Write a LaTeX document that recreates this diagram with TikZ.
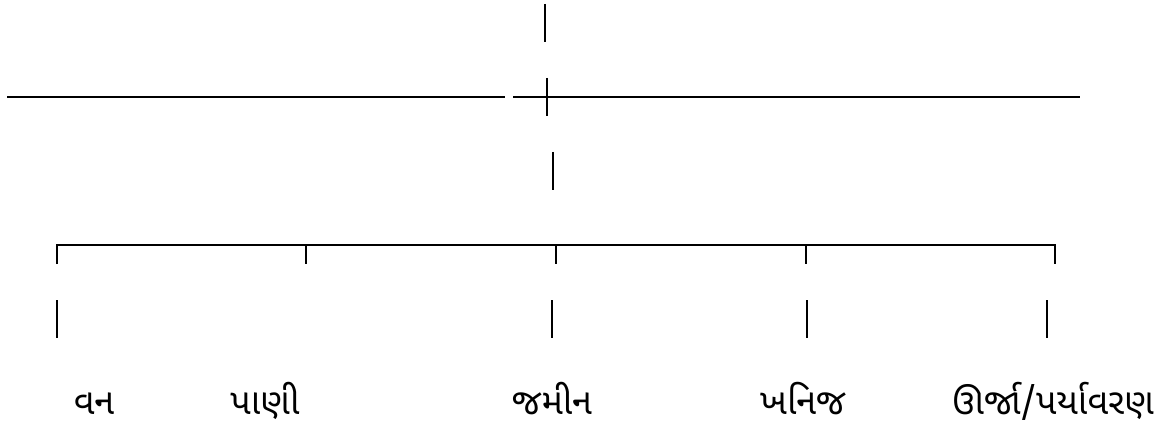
\documentclass[tikz,border=0pt]{standalone}
\usepackage{fontspec}
\newfontfamily\gujfont[Script=Gujarati]{Noto Sans Gujarati UI}
\begin{document}
\begin{tikzpicture}[x=1pt,y=-1pt,
  rule/.style={line width=2.2pt,line cap=butt},
  leaf/.style={font=\gujfont\fontsize{36}{40}\selectfont,anchor=base,inner sep=0pt}]
\useasboundingbox (0,0) rectangle (1167,425);
% top part
\coordinate (t1) at (545,4);   \coordinate (t2) at (545,42);
\coordinate (hl1) at (7,97);   \coordinate (hl2) at (505,97);
\coordinate (hr1) at (513,97); \coordinate (hr2) at (1080,97);
\coordinate (c1) at (547,78);  \coordinate (c2) at (547,116);
\coordinate (m1) at (553,152); \coordinate (m2) at (553,190);
\draw[rule] (t1) -- (t2);
\draw[rule] (hl1) -- (hl2);
\draw[rule] (hr1) -- (hr2);
\draw[rule] (c1) -- (c2);
\draw[rule] (m1) -- (m2);
% bracket
\coordinate (b1) at (57,245);  \coordinate (b2) at (306,245);
\coordinate (b3) at (556,245); \coordinate (b4) at (806,245);
\coordinate (b5) at (1055,245);
\draw[rule,line join=miter] ([yshift=-19pt]b1) -- (b1) -- (b5) -- ([yshift=-19pt]b5);
\foreach \b in {b2,b3,b4} \draw[rule] (\b) -- ([yshift=-19pt]\b);
% lower bars
\coordinate (l1) at (57,300);   \coordinate (l1e) at (57,338);
\coordinate (l3) at (552,300);  \coordinate (l3e) at (552,338);
\coordinate (l4) at (807,300);  \coordinate (l4e) at (807,338);
\coordinate (l5) at (1047,300); \coordinate (l5e) at (1047,338);
\draw[rule] (l1) -- (l1e);
\draw[rule] (l3) -- (l3e);
\draw[rule] (l4) -- (l4e);
\draw[rule] (l5) -- (l5e);
% labels
\node[leaf] (van) at (94,414) {વન};
\node[leaf] (pani) at (265,414) {પાણી};
\node[leaf] (jamin) at (552,414) {જમીન};
\node[leaf] (khanij) at (803,414) {ખનિજ};
\node[leaf] (urja) at (1053,414) {ઊર્જા/પર્યાવરણ};
\end{tikzpicture}
\end{document}
